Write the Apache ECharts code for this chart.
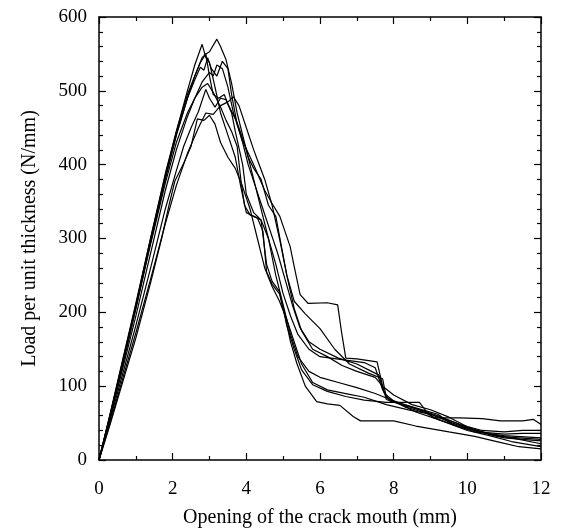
<!DOCTYPE html>
<html>
<head>
<meta charset="utf-8">
<script src="https://cdn.jsdelivr.net/npm/echarts@6/dist/echarts.min.js"></script>
<style>
  html, body { margin: 0; padding: 0; background: #fff; }
  #chart { width: 564px; height: 530px; }
</style>
</head>
<body>
<div id="chart"></div>
<script>
// Load vs. crack-mouth opening, one curve per specimen: [opening (mm), load (N/mm)]
const xTicks = [0, 2, 4, 6, 8, 10, 12];
const yTicks = [0, 100, 200, 300, 400, 500, 600];

const specimen1 = [[0,0],[0.3,60],[0.7,145],[1.0,210],[1.4,300],[1.8,385],[2.1,445],[2.4,500],[2.6,535],[2.8,563],[2.9,545],[3.0,538],[3.15,505],[3.3,470],[3.5,440],[3.7,410],[3.85,370],[4.0,335],[4.2,330],[4.4,325],[4.55,265],[4.7,242],[4.9,228],[5.1,182],[5.3,150],[5.5,122],[5.8,102],[6.2,93],[6.7,86],[7.2,81],[7.8,78],[8.7,78],[8.9,65],[9.1,57],[9.8,57],[10.4,56],[10.9,53],[11.5,53],[11.8,55],[12,48]];
const specimen2 = [[0,0],[0.3,58],[0.7,140],[1.0,205],[1.4,295],[1.8,380],[2.1,440],[2.4,490],[2.6,520],[2.8,545],[2.9,550],[3.0,553],[3.2,570],[3.3,560],[3.45,542],[3.6,510],[3.75,470],[3.9,440],[4.05,410],[4.2,395],[4.4,380],[4.6,345],[4.8,330],[4.95,290],[5.1,250],[5.3,215],[5.6,198],[6.0,178],[6.4,150],[6.8,130],[7.3,118],[7.7,110],[7.8,85],[8.3,72],[9.0,62],[9.6,50],[10.3,38],[11.0,35],[11.5,36],[12,36]];
const specimen3 = [[0,0],[0.3,62],[0.7,148],[1.0,212],[1.4,300],[1.8,388],[2.1,445],[2.4,495],[2.6,520],[2.75,538],[2.9,550],[3.0,520],[3.1,495],[3.25,490],[3.4,495],[3.5,482],[3.7,462],[3.9,432],[4.2,400],[4.5,365],[4.69,348],[4.91,330],[5.19,289],[5.3,262],[5.46,224],[5.68,212],[6.2,213],[6.48,210],[6.58,175],[6.7,138],[7.0,137],[7.55,133],[7.7,100],[7.8,82],[8.2,75],[8.7,68],[9.2,55],[9.8,45],[10.4,38],[11.0,30],[11.5,28],[12,26]];
const specimen4 = [[0,0],[0.3,57],[0.7,135],[1.0,195],[1.4,280],[1.8,365],[2.1,420],[2.4,465],[2.6,490],[2.8,512],[3.0,525],[3.1,520],[3.2,535],[3.35,530],[3.5,505],[3.65,470],[3.8,450],[4.0,420],[4.2,380],[4.4,340],[4.6,300],[4.8,265],[5.0,225],[5.2,195],[5.4,170],[5.7,150],[6.0,140],[6.6,136],[7.2,132],[7.5,125],[7.7,95],[7.9,80],[8.5,72],[9.2,62],[9.6,48],[10.2,38],[11.0,33],[12,30]];
const specimen5 = [[0,0],[0.3,54],[0.7,127],[1.0,182],[1.4,260],[1.8,340],[2.1,392],[2.3,425],[2.5,450],[2.7,472],[2.9,502],[3.0,490],[3.15,478],[3.3,490],[3.45,488],[3.6,470],[3.7,445],[3.9,400],[4.0,360],[4.2,335],[4.4,325],[4.6,300],[4.8,250],[5.0,210],[5.2,170],[5.4,140],[5.7,120],[6.0,112],[6.5,105],[7.0,98],[7.5,90],[8.0,80],[8.6,65],[9.2,55],[10.0,40],[10.6,33],[11.2,25],[12,18]];
const specimen6 = [[0,0],[0.3,50],[0.7,120],[1.0,172],[1.4,245],[1.8,320],[2.1,372],[2.4,415],[2.7,450],[2.9,470],[3.1,468],[3.3,480],[3.5,485],[3.65,492],[3.8,480],[4.0,450],[4.2,420],[4.35,400],[4.5,380],[4.7,345],[4.9,300],[5.1,250],[5.3,205],[5.5,175],[5.8,150],[6.2,140],[6.6,128],[7.0,120],[7.5,112],[7.7,100],[8.0,88],[8.5,75],[9.0,68],[9.5,58],[10.0,45],[10.6,35],[11.2,30],[12,22]];
const specimen7 = [[0,0],[0.3,48],[0.7,115],[1.0,165],[1.4,240],[1.7,300],[1.9,345],[2.06,378],[2.3,402],[2.5,425],[2.67,462],[2.85,460],[3.0,467],[3.15,455],[3.3,430],[3.5,410],[3.7,395],[3.9,370],[4.1,340],[4.3,300],[4.5,260],[4.7,235],[4.9,215],[5.1,190],[5.3,160],[5.5,130],[5.8,105],[6.2,95],[6.7,90],[7.2,85],[7.8,75],[8.4,68],[9.0,62],[9.6,52],[10.2,40],[10.8,32],[11.4,30],[12,28]];
const specimen8 = [[0,0],[0.3,60],[0.7,142],[1.0,205],[1.4,292],[1.8,375],[2.1,430],[2.4,470],[2.6,490],[2.8,505],[2.95,510],[3.1,498],[3.3,478],[3.45,460],[3.6,445],[3.75,425],[3.85,380],[3.95,345],[4.1,332],[4.3,328],[4.45,310],[4.55,255],[4.7,238],[4.9,225],[5.05,195],[5.2,160],[5.37,131],[5.6,100],[5.91,79],[6.2,76],[6.54,74],[6.9,59],[7.1,53],[8.0,53],[8.6,46],[9.5,38],[10.2,32],[10.8,25],[11.4,18],[12,15]];
const specimen9 = [[0,0],[0.3,61],[0.7,146],[1.0,208],[1.4,297],[1.8,382],[2.1,440],[2.4,490],[2.6,515],[2.75,532],[2.85,528],[2.95,545],[3.05,530],[3.2,520],[3.35,540],[3.5,530],[3.6,495],[3.75,455],[3.9,430],[4.05,400],[4.25,370],[4.45,340],[4.65,310],[4.85,280],[5.05,245],[5.25,210],[5.45,180],[5.7,160],[6.0,150],[6.5,138],[7.0,130],[7.4,120],[7.6,115],[7.75,90],[8.0,80],[8.6,70],[9.2,60],[9.8,48],[10.4,40],[11.0,38],[11.5,40],[12,40]];

const specimens = [specimen1, specimen2, specimen3, specimen4, specimen5, specimen6, specimen7, specimen8, specimen9];

const FONT = '"Liberation Serif", "Times New Roman", serif';
const black = '#000';

function frameAxis(extra) {
  return Object.assign({
    axisLine: { show: true, onZero: false, lineStyle: { color: black, width: 1.5 } },
    axisTick: { show: true, inside: true, length: 7, lineStyle: { color: black, width: 1.2 } },
    splitLine: { show: false },
    minorSplitLine: { show: false }
  }, extra);
}

const chart = echarts.init(document.getElementById('chart'), null, { renderer: 'canvas' });
chart.setOption({
  backgroundColor: '#fff',
  animation: false,
  grid: { left: 99, right: 23, top: 17, bottom: 70, containLabel: false, outerBoundsMode: 'none' },
  xAxis: [
    frameAxis({
      type: 'value', min: xTicks[0], max: xTicks[xTicks.length - 1], interval: 2,
      position: 'bottom',
      minorTick: { show: true, splitNumber: 2, length: 4, lineStyle: { color: black, width: 1.2 } },
      axisLabel: { color: black, fontFamily: FONT, fontSize: 19, margin: 20 },
      name: 'Opening of the crack mouth (mm)', nameLocation: 'middle', nameGap: 48,
      nameTextStyle: { color: black, fontFamily: FONT, fontSize: 20 }
    }),
    frameAxis({
      type: 'value', min: xTicks[0], max: xTicks[xTicks.length - 1], interval: 2,
      position: 'top',
      minorTick: { show: true, splitNumber: 2, length: 4, lineStyle: { color: black, width: 1.2 } },
      axisLabel: { show: false }
    })
  ],
  yAxis: [
    frameAxis({
      type: 'value', min: yTicks[0], max: yTicks[yTicks.length - 1], interval: 100,
      position: 'left',
      minorTick: { show: true, splitNumber: 5, length: 4, lineStyle: { color: black, width: 1.2 } },
      axisLabel: { color: black, fontFamily: FONT, fontSize: 19, margin: 12 },
      name: 'Load per unit thickness (N/mm)', nameLocation: 'middle', nameGap: 59,
      nameTextStyle: { color: black, fontFamily: FONT, fontSize: 20 }
    }),
    frameAxis({
      type: 'value', min: yTicks[0], max: yTicks[yTicks.length - 1], interval: 100,
      position: 'right',
      minorTick: { show: true, splitNumber: 5, length: 4, lineStyle: { color: black, width: 1.2 } },
      axisLabel: { show: false }
    })
  ],
  series: specimens.map((pts, i) => ({
    name: 'Specimen ' + (i + 1),
    type: 'line',
    xAxisIndex: 0,
    yAxisIndex: 0,
    data: pts,
    showSymbol: false,
    symbol: 'none',
    smooth: false,
    lineStyle: { color: black, width: 1.2 },
    z: 3
  }))
});
</script>
</body>
</html>
